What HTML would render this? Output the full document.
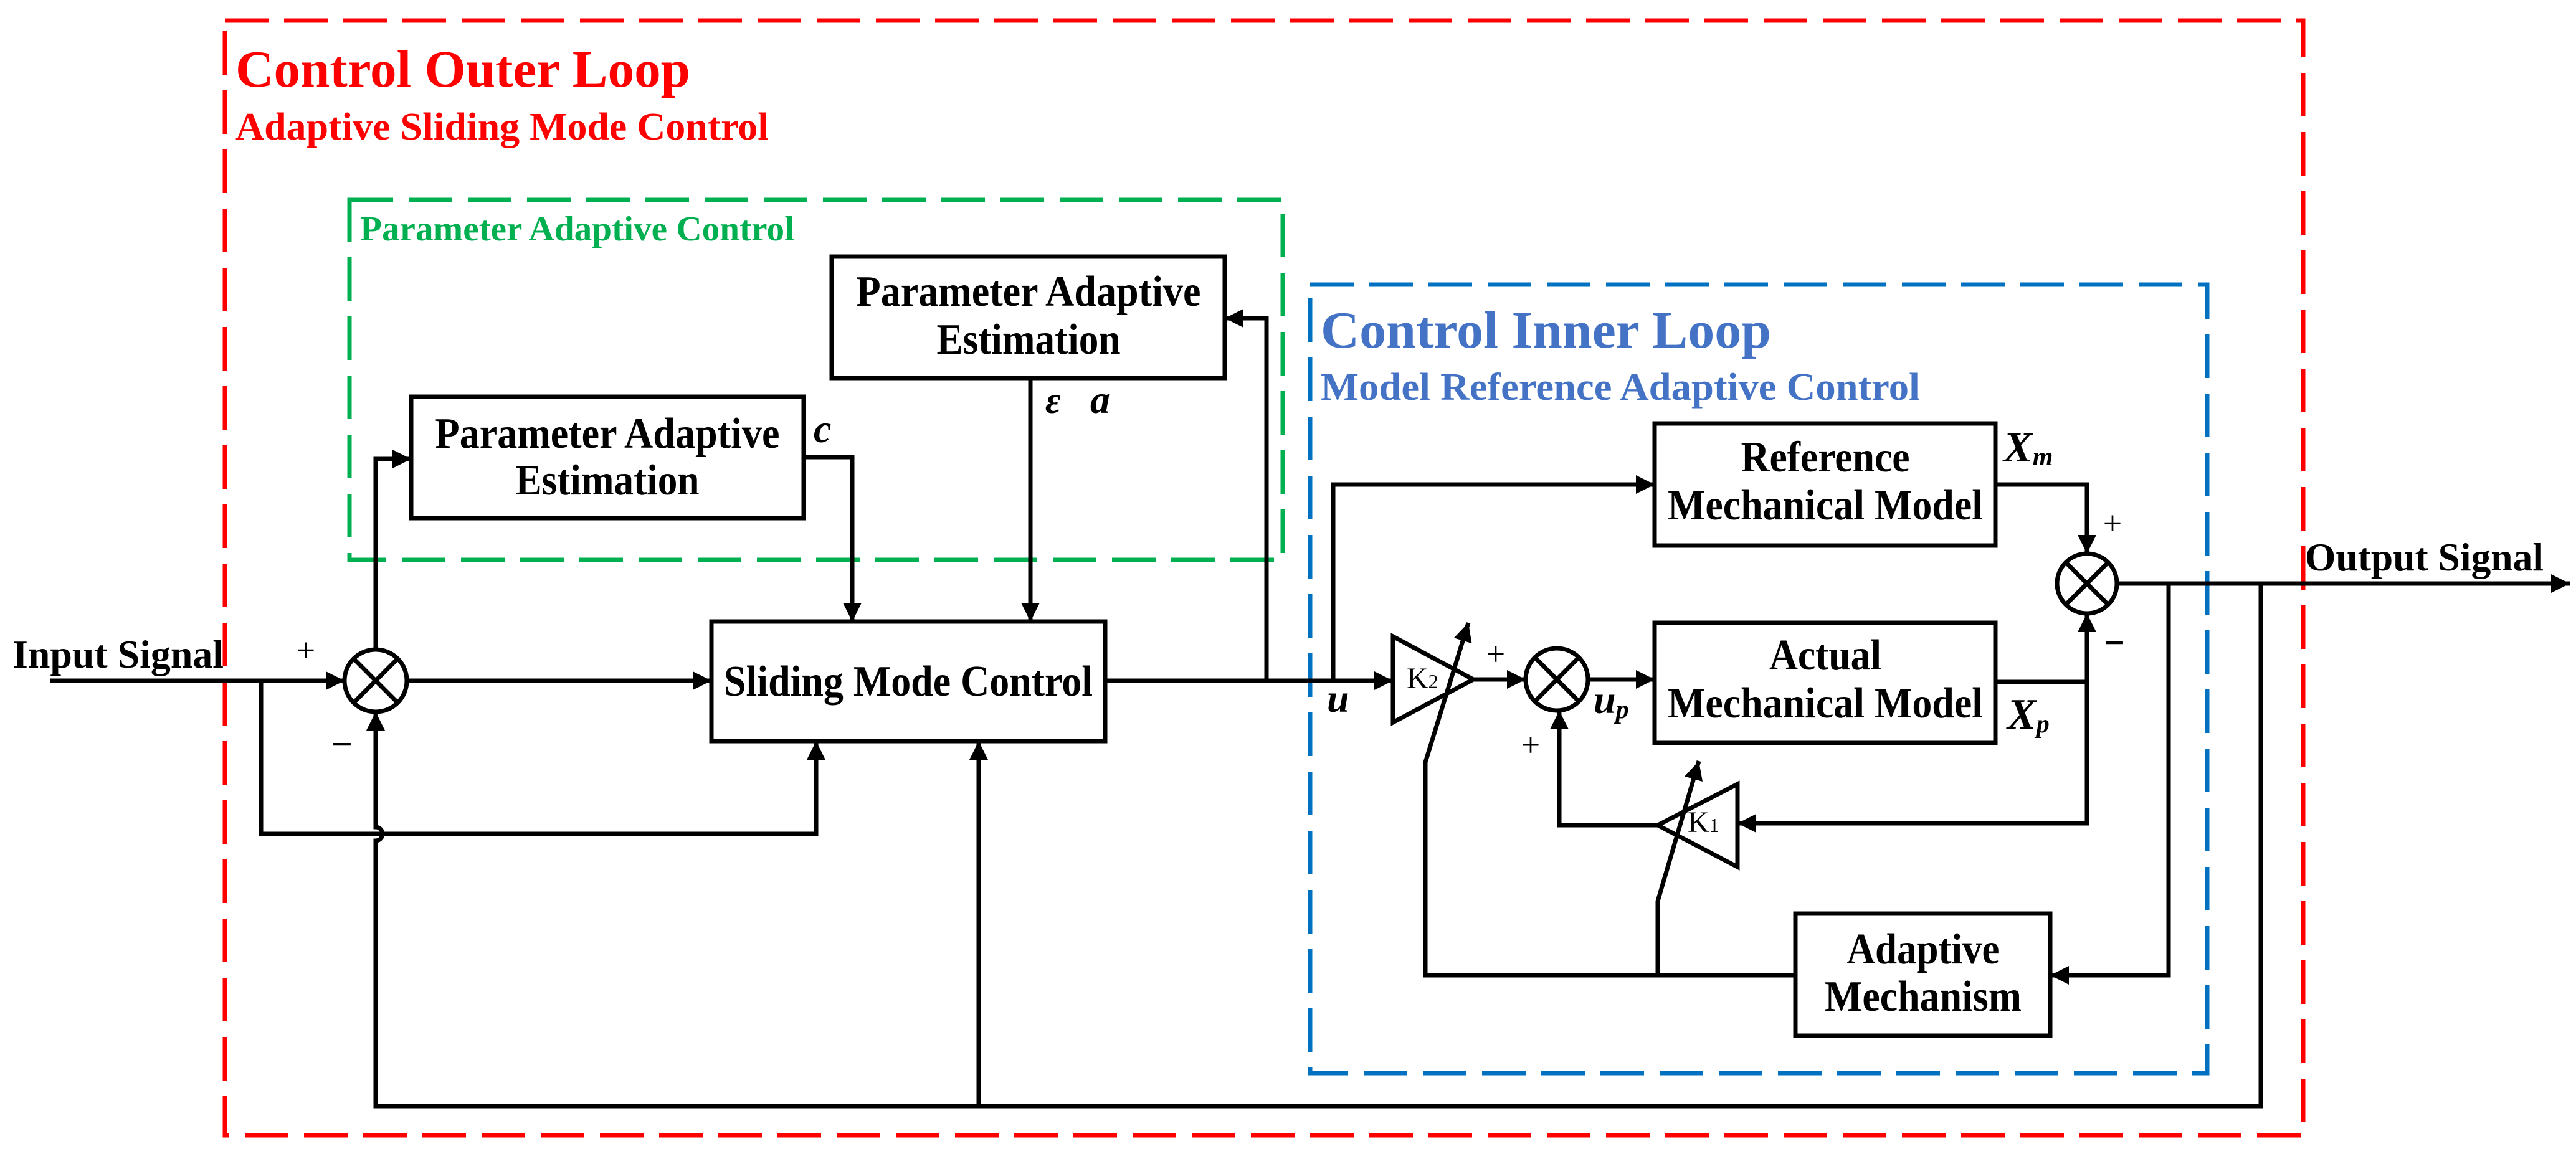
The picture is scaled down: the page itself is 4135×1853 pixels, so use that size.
<!DOCTYPE html>
<html><head><meta charset="utf-8"><style>
html,body{margin:0;padding:0;background:#fff}
svg{display:block}
text{font-family:"Liberation Serif",serif;font-weight:bold}
</style></head><body>
<svg width="4135" height="1853" viewBox="0 0 4135 1853" xmlns="http://www.w3.org/2000/svg">
<defs>
<marker id="a" viewBox="0 0 10 10" refX="10" refY="5" markerWidth="34" markerHeight="30" markerUnits="userSpaceOnUse" orient="auto">
<path d="M0,0 L10,5 L0,10 z" fill="#000"/></marker>
</defs>
<rect x="361" y="33" width="3336" height="1790" fill="none" stroke="#ff0000" stroke-width="7" stroke-dasharray="70,25"/>
<rect x="561" y="321" width="1498" height="578" fill="none" stroke="#00b050" stroke-width="7" stroke-dasharray="70,25"/>
<rect x="2103" y="457" width="1440" height="1266" fill="none" stroke="#0070c0" stroke-width="7" stroke-dasharray="70,25"/>

<text x="378" y="139" font-size="84" fill="#ff0000" textLength="730" lengthAdjust="spacingAndGlyphs">Control Outer Loop</text>
<text x="378" y="224" font-size="62" fill="#ff0000" textLength="856" lengthAdjust="spacingAndGlyphs">Adaptive Sliding Mode Control</text>
<text x="578" y="386" font-size="56" fill="#00b050" textLength="697" lengthAdjust="spacingAndGlyphs">Parameter Adaptive Control</text>
<text x="2120" y="558" font-size="84" fill="#4472c4" textLength="723" lengthAdjust="spacingAndGlyphs">Control Inner Loop</text>
<text x="2120" y="642" font-size="62" fill="#4472c4" textLength="962" lengthAdjust="spacingAndGlyphs">Model Reference Adaptive Control</text>

<g fill="none" stroke="#000" stroke-width="7">
<rect x="660" y="637" width="630" height="195"/>
<rect x="1335" y="412" width="631" height="195"/>
<rect x="1142" y="998" width="632" height="192"/>
<rect x="2656" y="680" width="547" height="196"/>
<rect x="2656" y="1000" width="547" height="193"/>
<rect x="2882" y="1467" width="409" height="196"/>
<ellipse cx="603" cy="1093" rx="50" ry="50"/>
<path d="M568 1058 L638 1128 M638 1058 L568 1128"/>
<ellipse cx="2499" cy="1091" rx="50" ry="50"/>
<path d="M2464 1056 L2534 1126 M2534 1056 L2464 1126"/>
<ellipse cx="3350" cy="937" rx="48" ry="48"/>
<path d="M3316 903 L3384 971 M3384 903 L3316 971"/>
<path d="M2236 1022 L2236 1160 L2365 1091 z"/>
<path d="M2789 1259 L2789 1392 L2661 1325 z"/>
</g>

<g fill="none" stroke="#000" stroke-width="7" marker-end="url(#a)">
<path d="M80 1093 H553"/>
<path d="M653 1093 H1142"/>
<path d="M419 1093 V1339 H1310 V1190"/>
<path d="M603 1043 V737 H660"/>
<path d="M1290 734 H1368 V998"/>
<path d="M1654 607 V998"/>
<path d="M1774 1093 H2236"/>
<path d="M2033 1093 V511 H1966"/>
<path d="M2140 1093 V778 H2656"/>
<path d="M3629 937 V1776 H603 V1350 A11 11 0 0 0 603 1328 V1143"/>
<path d="M1571 1776 V1190"/>
<path d="M2365 1091 H2449"/>
<path d="M2549 1091 H2656"/>
<path d="M3203 778 H3350 V889"/>
<path d="M3203 1095 H3350 V985"/>
<path d="M3398 937 H4125"/>
<path d="M3481 937 V1566 H3291"/>
<path d="M3350 1095 V1322 H2789"/>
<path d="M2661 1325 H2503 V1141"/>
<path d="M2661 1566 V1447 L2727 1222"/>
<path d="M2882 1566 H2288 V1224 L2357 1000"/>
</g>

<g fill="#000">
<text x="20" y="1072" font-size="64" textLength="339" lengthAdjust="spacingAndGlyphs">Input Signal</text>
<text x="3700" y="916" font-size="64" textLength="383" lengthAdjust="spacingAndGlyphs">Output Signal</text>
<text x="975" y="719" font-size="70" text-anchor="middle" textLength="553" lengthAdjust="spacingAndGlyphs">Parameter Adaptive</text>
<text x="975" y="794" font-size="70" text-anchor="middle" textLength="295" lengthAdjust="spacingAndGlyphs">Estimation</text>
<text x="1651" y="491" font-size="70" text-anchor="middle" textLength="553" lengthAdjust="spacingAndGlyphs">Parameter Adaptive</text>
<text x="1651" y="568" font-size="70" text-anchor="middle" textLength="295" lengthAdjust="spacingAndGlyphs">Estimation</text>
<text x="1458" y="1117" font-size="70" text-anchor="middle" textLength="592" lengthAdjust="spacingAndGlyphs">Sliding Mode Control</text>
<text x="2930" y="757" font-size="70" text-anchor="middle" textLength="271" lengthAdjust="spacingAndGlyphs">Reference</text>
<text x="2930" y="834" font-size="70" text-anchor="middle" textLength="506" lengthAdjust="spacingAndGlyphs">Mechanical Model</text>
<text x="2930" y="1075" font-size="70" text-anchor="middle" textLength="180" lengthAdjust="spacingAndGlyphs">Actual</text>
<text x="2930" y="1152" font-size="70" text-anchor="middle" textLength="506" lengthAdjust="spacingAndGlyphs">Mechanical Model</text>
<text x="3087" y="1547" font-size="70" text-anchor="middle" textLength="245" lengthAdjust="spacingAndGlyphs">Adaptive</text>
<text x="3087" y="1623" font-size="70" text-anchor="middle" textLength="316" lengthAdjust="spacingAndGlyphs">Mechanism</text>
<g font-style="italic">
<text x="1306" y="710" font-size="64">c</text>
<text x="1678" y="663" font-size="60">ε</text>
<text x="1750" y="663" font-size="64">a</text>
<text x="2130" y="1143" font-size="64">u</text>
<text x="2558" y="1145" font-size="64">u<tspan font-size="42" dy="8">p</tspan></text>
<text x="3216" y="741" font-size="70">X<tspan font-size="42" dy="6">m</tspan></text>
<text x="3222" y="1170" font-size="70">X<tspan font-size="42" dy="6">p</tspan></text>
</g>
<g>
<text x="2258" y="1105" font-size="48" style="font-weight:normal">K<tspan font-size="32">2</tspan></text>
<text x="2709" y="1336" font-size="48" style="font-weight:normal">K<tspan font-size="32">1</tspan></text>
<text x="491" y="1062" font-size="54" text-anchor="middle" style="font-weight:normal">+</text>
<text x="549" y="1215" font-size="60" text-anchor="middle">−</text>
<text x="2401" y="1068" font-size="54" text-anchor="middle" style="font-weight:normal">+</text>
<text x="2457" y="1214" font-size="54" text-anchor="middle" style="font-weight:normal">+</text>
<text x="3391" y="858" font-size="54" text-anchor="middle" style="font-weight:normal">+</text>
<text x="3394" y="1052" font-size="60" text-anchor="middle">−</text>
</g>
</g>
</svg>
</body></html>
